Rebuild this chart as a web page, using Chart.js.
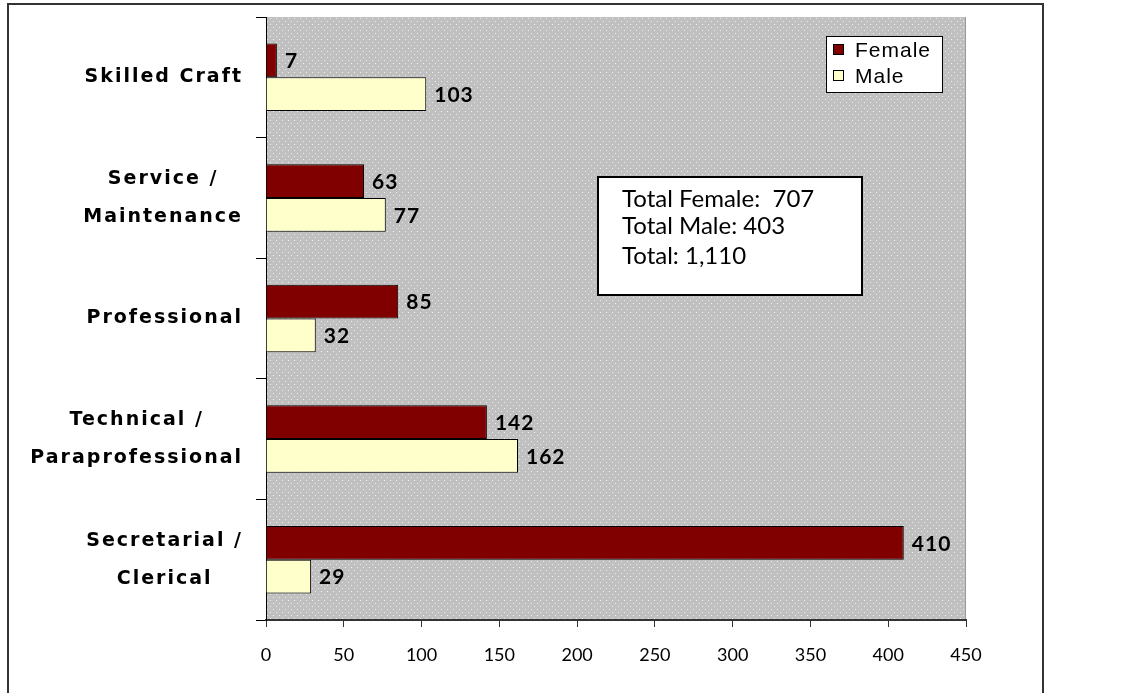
<!DOCTYPE html>
<html>
<head>
<script src="https://cdn.jsdelivr.net/npm/chart.js@4/dist/chart.umd.min.js"></script>
<style>
  body { margin: 0; background: #fff; }
  #wrap { position: relative; width: 1131px; height: 693px; overflow: hidden; }
  #frame { position: absolute; left: 7px; top: 3px; width: 1033px; height: 720px;
           border: 2px solid #333; pointer-events: none; }
</style>
</head>
<body>
<div id="wrap">
  <canvas id="c" width="1131" height="693"></canvas>
  <div id="frame"></div>
</div>
<script>
var categories = [['Skilled Craft'], ['Service /', 'Maintenance'], ['Professional'],
                  ['Technical /', 'Paraprofessional'], ['Secretarial /', 'Clerical']];
var female = [7, 63, 85, 142, 410];
var male = [103, 77, 32, 162, 29];
var xTicks = [0, 50, 100, 150, 200, 250, 300, 350, 400, 450];

var sum = function (a) { return a.reduce(function (s, v) { return s + v; }, 0); };
var totals = [
  'Total Female:  ' + sum(female),
  'Total Male: ' + sum(male),
  'Total: ' + (sum(female) + sum(male)).toLocaleString('en-US')
];

Chart.defaults.font.family = "Lato, 'DejaVu Sans', sans-serif";

function dotPattern(ctx) {
  var p = document.createElement('canvas');
  p.width = 6; p.height = 6;
  var g = p.getContext('2d');
  g.fillStyle = '#c0c0c0'; g.fillRect(0, 0, 6, 6);
  g.fillStyle = '#ededed'; g.fillRect(0, 0, 1, 1); g.fillRect(3, 3, 1, 1);
  return ctx.createPattern(p, 'repeat');
}

var deco = {
  id: 'deco',
  beforeDraw: function (chart) {
    var ctx = chart.ctx, a = chart.chartArea;
    ctx.save();
    ctx.fillStyle = dotPattern(ctx);
    ctx.fillRect(a.left, a.top, a.right - a.left, a.bottom - a.top);
    ctx.strokeStyle = '#9a9a9a'; ctx.lineWidth = 1;
    ctx.beginPath(); ctx.moveTo(a.right - 0.5, a.top); ctx.lineTo(a.right - 0.5, a.bottom); ctx.stroke();
    ctx.restore();
  },
  afterDatasetsDraw: function (chart) {
    var ctx = chart.ctx;
    ctx.save();
    ctx.font = "bold 21px Lato, 'DejaVu Sans', sans-serif";
    ctx.letterSpacing = '1px';
    ctx.fillStyle = '#000';
    ctx.textAlign = 'left'; ctx.textBaseline = 'middle';
    chart.data.datasets.forEach(function (ds, di) {
      chart.getDatasetMeta(di).data.forEach(function (bar, i) {
        ctx.fillText(String(ds.data[i]), bar.x + 8, bar.y + 1);
      });
    });
    ctx.restore();
  },
  afterDraw: function (chart) {
    var ctx = chart.ctx, y = chart.scales.y;
    ctx.save();
    // category labels: block right aligned, lines centred
    ctx.font = "bold 19px 'DejaVu Sans', sans-serif";
    ctx.letterSpacing = '2px';
    ctx.fillStyle = '#000';
    ctx.textAlign = 'center'; ctx.textBaseline = 'middle';
    categories.forEach(function (lines, i) {
      var yc = y.getPixelForTick(i);
      var w = Math.max.apply(null, lines.map(function (l) { return ctx.measureText(l).width; }));
      var cx = y.right - 23 - w / 2;
      lines.forEach(function (l, k) {
        ctx.fillText(l, cx, yc + (k - (lines.length - 1) / 2) * 38);
      });
    });

    // legend
    var lx = 826, ly = 36, lw = 116, lh = 56;
    ctx.letterSpacing = '1px';
    ctx.fillStyle = '#fff'; ctx.fillRect(lx, ly, lw, lh);
    ctx.strokeStyle = '#000'; ctx.lineWidth = 1;
    ctx.strokeRect(lx + 0.5, ly + 0.5, lw, lh);
    ctx.font = "21px 'Liberation Sans', Arial, sans-serif";
    ctx.textAlign = 'left';
    chart.data.datasets.forEach(function (ds, i) {
      var cy = ly + 14 + i * 26;
      ctx.fillStyle = ds.backgroundColor;
      ctx.fillRect(lx + 7, cy - 6, 11, 11);
      ctx.strokeRect(lx + 7.5, cy - 5.5, 10, 10);
      ctx.fillStyle = '#000';
      ctx.fillText(ds.label, lx + 29, cy + 1);
    });

    // totals box
    var bx = 598, by = 177, bw = 264, bh = 118;
    ctx.letterSpacing = '0px';
    ctx.fillStyle = '#fff'; ctx.fillRect(bx, by, bw, bh);
    ctx.lineWidth = 2; ctx.strokeRect(bx, by, bw, bh);
    ctx.fillStyle = '#000';
    ctx.font = "24px Lato, 'DejaVu Sans', sans-serif";
    [22, 49, 79].forEach(function (dy, k) {
      ctx.fillText(totals[k], bx + 24, by + dy);
    });
    ctx.restore();
  }
};

new Chart(document.getElementById('c'), {
  type: 'bar',
  data: {
    labels: categories,
    datasets: [
      { label: 'Female', data: female, backgroundColor: '#800000', borderColor: '#000', borderWidth: 1,
        categoryPercentage: 0.56, barPercentage: 1 },
      { label: 'Male', data: male, backgroundColor: '#ffffcc', borderColor: '#000', borderWidth: 1,
        categoryPercentage: 0.56, barPercentage: 1 }
    ]
  },
  options: {
    indexAxis: 'y',
    responsive: false,
    animation: false,
    layout: { padding: { left: 0, top: 17, right: 165, bottom: 0 } },
    plugins: { legend: { display: false }, tooltip: { enabled: false } },
    scales: {
      x: {
        min: 0, max: 450,
        afterBuildTicks: function (s) { s.ticks = xTicks.map(function (v) { return { value: v }; }); },
        afterFit: function (s) { s.height = 73; },
        border: { display: true, color: '#333', width: 2 },
        grid: { drawOnChartArea: false, drawTicks: true, tickLength: 7, color: '#333' },
        ticks: { color: '#000', font: { size: 18 }, padding: 17, maxRotation: 0 }
      },
      y: {
        afterFit: function (s) { s.width = 266; },
        border: { display: true, color: '#000', width: 1 },
        grid: { drawOnChartArea: false, drawTicks: true, tickLength: 10, color: '#000', offset: true },
        ticks: { display: false }
      }
    }
  },
  plugins: [deco]
});
</script>
</body>
</html>
